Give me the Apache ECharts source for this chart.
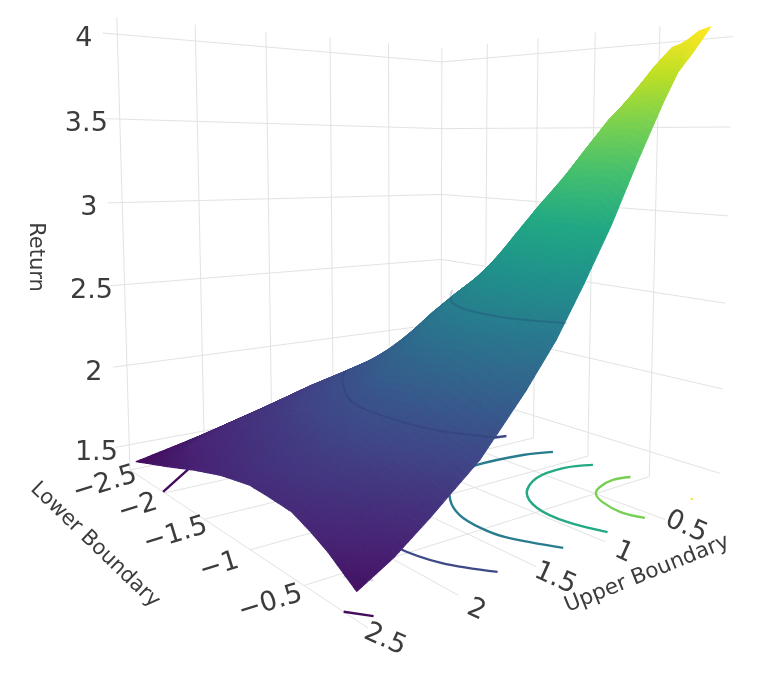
<!DOCTYPE html>
<html><head><meta charset="utf-8">
<style>html,body{margin:0;padding:0;background:#fff}#c{width:761px;height:676px}</style>
<script src="https://cdn.jsdelivr.net/npm/echarts@6/dist/echarts.min.js"></script>
</head><body><div id="c"></div>
<script>
// ---------- data ----------
const lowerValues = [-2.4, -2, -1.6, -1.3, -1, -0.8, -0.6, -0.45, -0.3, -0.18, -0.08];
const upperValues = [0.1, 0.2, 0.3, 0.4, 0.5, 0.7, 0.9, 1.1, 1.3, 1.5, 1.8, 2.1, 2.3, 2.5];
// one row per lower value, one entry per upper value
const ret_m240 = [1.66,1.68,1.69,1.70,1.71,1.73,1.74,1.73,1.69,1.64,1.57,1.50,1.46,1.42];
const ret_m200 = [1.80,1.82,1.84,1.86,1.87,1.89,1.89,1.88,1.87,1.83,1.75,1.67,1.60,1.50];
const ret_m160 = [2.05,2.08,2.10,2.12,2.13,2.15,2.13,2.10,2.05,2.00,1.87,1.74,1.67,1.585];
const ret_m130 = [2.39,2.41,2.42,2.44,2.45,2.49,2.46,2.35,2.22,2.10,1.95,1.79,1.72,1.64];
const ret_m100 = [2.79,2.81,2.82,2.82,2.80,2.75,2.65,2.55,2.41,2.26,2.03,1.84,1.76,1.675];
const ret_m080 = [3.07,3.10,3.11,3.10,3.08,3.02,2.85,2.66,2.50,2.31,2.06,1.86,1.77,1.67];
const ret_m060 = [3.45,3.49,3.49,3.45,3.38,3.20,3.00,2.76,2.56,2.36,2.06,1.84,1.75,1.66];
const ret_m045 = [3.63,3.67,3.65,3.60,3.53,3.33,3.05,2.80,2.59,2.35,2.02,1.80,1.71,1.62];
const ret_m030 = [3.80,3.84,3.83,3.74,3.62,3.37,3.07,2.80,2.55,2.30,1.97,1.75,1.66,1.57];
const ret_m018 = [3.93,3.96,3.93,3.80,3.66,3.37,3.06,2.78,2.49,2.25,1.93,1.71,1.61,1.515];
const ret_m008 = [4.05,4.02,3.92,3.76,3.62,3.31,2.98,2.69,2.42,2.20,1.91,1.70,1.57,1.47];
const returnRows = [ret_m240,ret_m200,ret_m160,ret_m130,ret_m100,ret_m080,ret_m060,ret_m045,ret_m030,ret_m018,ret_m008];

// contour levels as [lower, upper] pairs
const level15a = [[-2.4,2.1],[-2.29,2.22],[-2.02,2.5]];
const level15b = [[-0.18,2.5],[-0.07,2.42]];
const level20 = [[-1.645,0.12],[-1.75,0.8],[-1.61,1.5],[-1.435,1.645],[-1,1.88],[-0.58,1.9],[-0.31,1.84],[-0.07,1.69]];
const level25 = [[-1.2,0.12],[-1.27,0.33],[-1.3,0.71],[-1.24,0.975],[-0.93,1.25],[-0.72,1.36],[-0.52,1.39],[-0.35,1.37],[-0.075,1.23]];
const level30 = [[-0.86,0.11],[-0.93,0.31],[-0.9,0.58],[-0.75,0.815],[-0.54,0.94],[-0.3,0.958],[-0.075,0.89]];
const level35 = [[-0.565,0.1],[-0.595,0.23],[-0.56,0.39],[-0.495,0.5],[-0.387,0.57],[-0.22,0.61],[-0.083,0.57]];
const level40 = [[-0.115,0.1],[-0.1,0.125]];
const floorContours = [[1.5,level15a],[1.5,level15b],[2,level20],[2.5,level25],[3,level30],[3.5,level35],[4,level40]];
// visible parts of the same levels where they lie on the sheet
const sheetContours = [[1.5,level15a],[1.5,level15b],[2,level20.slice(2)],[2.5,level25.slice(3)]];

const lowerTicks = [-2.5, -2, -1.5, -1, -0.5];
const upperTicks = [0.5, 1, 1.5, 2, 2.5];
const returnTicks = [1.5, 2, 2.5, 3, 3.5, 4];
const lowerTickLabels = ['\u22122.5', '\u22122', '\u22121.5', '\u22121', '\u22120.5'];
const upperTickLabels = ['0.5', '1', '1.5', '2', '2.5'];
const returnTickLabels = ['1.5', '2', '2.5', '3', '3.5', '4'];

// ---------- camera: projective scale from data to the picture ----------
const cam = {a:95.7,b:-337.8,c:441,d:-33.8,e:-33.8,f:407,g:-0.2536,h:-0.2059,k:-0.01264,cx:-5.26,cy:-130.5,z0:1.34};
const zTop = 4.1, vOver = 1.035;
function uv(x, y){ return [(x+2.5)/2.5, y/2.5]; }
function projUV(u, v, z){
  const w = z-cam.z0, den = 1+cam.g*u+cam.h*v+cam.k*w;
  return [(cam.a*u+cam.b*v+cam.c+cam.cx*w)/den, (cam.d*u+cam.e*v+cam.f+cam.cy*w)/den];
}
function proj(x, y, z){ const p = uv(x,y); return projUV(p[0],p[1],z); }
function denOf(u, v){ return 1+cam.g*u+cam.h*v; }

const stops = ['#440154','#482475','#414487','#355f8d','#2a788e','#21918c','#22a884','#44bf70','#7ad151','#bddf26','#fde725'].map(function(s){
  return [parseInt(s.substr(1,2),16),parseInt(s.substr(3,2),16),parseInt(s.substr(5,2),16)];
});
const cMax = 4.04, lineMin = 1.42, sheetMin = 1.33;
function viridis(z, cMin){
  let t = Math.max(0,Math.min(1,(z-cMin)/(cMax-cMin)))*10, i = Math.min(9,Math.floor(t)), f = t-i;
  const c = stops[i], d = stops[i+1];
  return 'rgb('+Math.round(c[0]+(d[0]-c[0])*f)+','+Math.round(c[1]+(d[1]-c[1])*f)+','+Math.round(c[2]+(d[2]-c[2])*f)+')';
}

// ---------- marks ----------
const GRID = '#e3e3e3', TEXT = '#3c3c3c', FONT = '"DejaVu Sans"';
function lineEl(api, pts, stroke, width, smooth, opacity){
  return {type:'polyline', silent:true,
    shape:{points:pts.map(function(p){return api.coord(p);}), smooth:smooth||0},
    style:{stroke:stroke, lineWidth:width, fill:null, opacity:opacity==null?1:opacity, lineCap:'butt'}};
}
function gridLines(){
  const L = [];
  lowerTicks.forEach(function(t){ const u = uv(t,0)[0];
    L.push([projUV(u,0,cam.z0),projUV(u,1,cam.z0)]);
    L.push([projUV(u,0,cam.z0),projUV(u,0,zTop)]); });
  upperTicks.forEach(function(t){ const v = uv(0,t)[1];
    L.push([projUV(0,v,cam.z0),projUV(1,v,cam.z0)]);
    L.push([projUV(0,v,cam.z0),projUV(0,v,zTop)]); });
  returnTicks.forEach(function(t){
    L.push([projUV(0,vOver,t),projUV(0,0,t),projUV(1,0,t)]); });
  return L;
}
const gridData = gridLines();
const cells = [];
for (let j=0;j<upperValues.length-1;j++) for (let i=0;i<lowerValues.length-1;i++) cells.push([i,j]);

const SUB = 8;
function renderCell(params, api){
  const i = api.value(0), j = api.value(1), kids = [];
  const x0=lowerValues[i], x1=lowerValues[i+1], y0=upperValues[j], y1=upperValues[j+1];
  const z00=returnRows[i][j], z10=returnRows[i+1][j], z01=returnRows[i][j+1], z11=returnRows[i+1][j+1];
  function pt(a,b){
    const z=(1-a)*(1-b)*z00+a*(1-b)*z10+(1-a)*b*z01+a*b*z11;
    return {z:z,p:api.coord(proj(x0+(x1-x0)*a,y0+(y1-y0)*b,z))};
  }
  for (let n=0;n<SUB;n++) for (let m=0;m<SUB;m++){
    const A=pt(m/SUB,n/SUB),B=pt((m+1)/SUB,n/SUB),C=pt((m+1)/SUB,(n+1)/SUB),D=pt(m/SUB,(n+1)/SUB);
    const col=viridis((A.z+B.z+C.z+D.z)/4, sheetMin);
    kids.push({type:'polygon',silent:true,shape:{points:[A.p,B.p,C.p,D.p]},style:{fill:col,stroke:col,lineWidth:1.1,lineJoin:'round'}});
  }
  return {type:'group',children:kids};
}

// ---------- labels ----------
const labelData = [];
returnTicks.forEach(function(t,i){ const p=projUV(0,vOver,t);
  labelData.push([returnTickLabels[i],p[0]-19,p[1]+5.5,0,27]); });
lowerTicks.forEach(function(t,i){ const u=uv(t,0)[0], p=projUV(u,1,cam.z0), s=denOf(0,1)/denOf(u,1);
  labelData.push([lowerTickLabels[i],p[0]-25*s,p[1]+4+10*s,-17,27]); });
const upOffX=[21,19,19,18,17], upOffY=[7.5,11,12,15,12];
upperTicks.forEach(function(t,i){ const v=uv(0,t)[1], p=projUV(1,v,cam.z0);
  labelData.push([upperTickLabels[i],p[0]+upOffX[i],p[1]+upOffY[i],24,27]); });
labelData.push(['Return',35,257,90,21]);
labelData.push(['Lower Boundary',95,545,44,21]);
labelData.push(['Upper Boundary',647,574,-22,21.5]);

function txt(params, api){
  const d = labelData[api.value(0)], c = api.coord([d[1],d[2]]);
  return {type:'text',silent:true,x:c[0],y:c[1],rotation:-d[3]*Math.PI/180,
    style:{text:d[0],x:0,y:0,align:'center',verticalAlign:'middle',fill:TEXT,font:d[4]+'px '+FONT}};
}
function idx(a){ return a.map(function(_,i){return [i];}); }

const chart = echarts.init(document.getElementById('c'),null,{renderer:'canvas'});
chart.setOption({
  animation:false, backgroundColor:'#ffffff', tooltip:{show:false},
  grid:{left:0,right:0,top:0,bottom:0},
  xAxis:{type:'value',min:0,max:761,show:false},
  yAxis:{type:'value',min:0,max:676,inverse:true,show:false},
  series:[
    {type:'custom',coordinateSystem:'cartesian2d',silent:true,clip:false,z:1,data:idx(gridData),
      renderItem:function(p,api){ return lineEl(api,gridData[api.value(0)],GRID,1); }},
    {type:'custom',coordinateSystem:'cartesian2d',silent:true,clip:false,z:2,data:idx(floorContours),
      renderItem:function(p,api){ const f=floorContours[api.value(0)];
        return lineEl(api,f[1].map(function(q){return proj(q[0],q[1],cam.z0);}),viridis(f[0],lineMin),2.4,0.35); }},
    {type:'custom',coordinateSystem:'cartesian2d',silent:true,clip:false,z:3,progressive:0,data:cells,
      renderItem:renderCell},
    {type:'custom',coordinateSystem:'cartesian2d',silent:true,clip:false,z:4,data:idx(sheetContours),
      renderItem:function(p,api){ const f=sheetContours[api.value(0)];
        return lineEl(api,f[1].map(function(q){return proj(q[0],q[1],f[0]);}),'#1c2a66',2,0.35,0.2); }},
    {type:'custom',coordinateSystem:'cartesian2d',silent:true,clip:false,z:5,data:idx(labelData),
      renderItem:txt}
  ]
});
</script></body></html>
